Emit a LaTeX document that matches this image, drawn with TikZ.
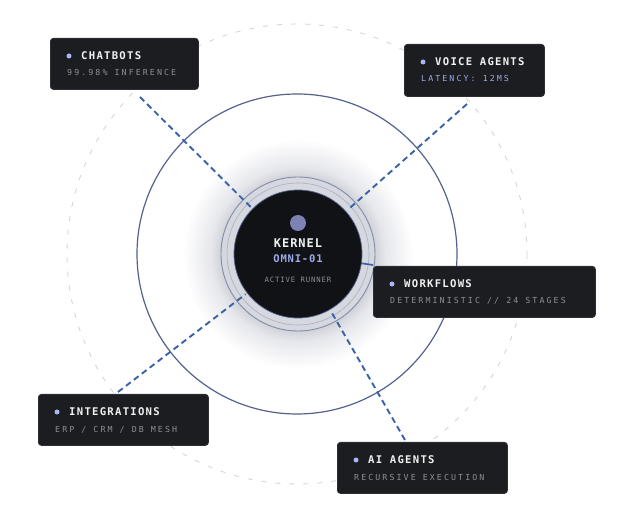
\documentclass[tikz,border=0pt]{standalone}
\usepackage{fontspec}
\usetikzlibrary{calc}
\newfontfamily\ttlfont[LetterSpace=12]{DejaVu Sans Mono}
\newfontfamily\subfont[LetterSpace=25]{DejaVu Sans Mono}
\newfontfamily\kerfont[LetterSpace=8]{DejaVu Sans Mono}
\newfontfamily\runfont[LetterSpace=12]{DejaVu Sans Mono}
\definecolor{boxbg}{HTML}{1C1D21}
\definecolor{boxedge}{HTML}{2C2E34}
\definecolor{ttlc}{HTML}{F2F2F4}
\definecolor{subc}{HTML}{8C8F97}
\definecolor{lav}{HTML}{9DAAE8}
\definecolor{dotc}{HTML}{A9B6F4}
\definecolor{connc}{HTML}{3A62A8}
\definecolor{midc}{HTML}{56628E}
\definecolor{outc}{HTML}{D6D6D8}
\definecolor{kfill}{HTML}{111216}
\definecolor{ringfill}{HTML}{D5D8DF}
\definecolor{ringc}{HTML}{858CA6}
\definecolor{glowc}{HTML}{C9CCD4}
\definecolor{glowm}{HTML}{E6E7EC}
\definecolor{kdot}{HTML}{7C82B4}
\pgfdeclareradialshading{kglow}{\pgfpoint{0bp}{0bp}}{color(0bp)=(glowc); color(16bp)=(glowc); color(19bp)=(glowm); color(25bp)=(white); color(50bp)=(white)}
\tikzset{
  infobox/.style={draw=boxedge, line width=0.8pt, fill=boxbg, rounded corners=3pt},
  ttl/.style={anchor=base west, inner sep=0pt, text=ttlc, font=\ttlfont\bfseries\fontsize{10.6}{12}\selectfont},
  sub/.style={anchor=base west, inner sep=0pt, text=subc, font=\subfont\fontsize{8.3}{10}\selectfont},
  bdot/.style={circle, fill=dotc, inner sep=0pt, minimum size=5pt},
  conn/.style={draw=connc, line width=1.9pt, dash pattern=on 6pt off 4pt},
}
\newcommand{\infob}[8]{%
  \node[infobox, anchor=north west, minimum width=#4-#2, minimum height=#5-#3, inner sep=0pt] (#1) at (#2,#3) {};
  \node[bdot] (#1d) at ($(#1.north west)+(19,18)$) {};
  \node[ttl] (#1t) at ($(#1.north west)+(31,21.9)$) {#6};
  \node[sub, text=#8] (#1s) at ($(#1.north west)+(17,38)$) {#7};
}
\begin{document}
\begin{tikzpicture}[x=1pt,y=-1pt]
\useasboundingbox[fill=white] (0,0) rectangle (624,518);
% rings
\draw[outc, line width=0.9pt, dash pattern=on 5pt off 9pt] (297,254) circle (230);
\draw[midc, line width=1.2pt] (297,254) circle (160);
\coordinate (C) at (298,254);
\shade[shading=kglow] (C) circle (115);
% connector endpoints
\coordinate (cbe) at (140,97);
\coordinate (vae) at (467,104);
\coordinate (wfe) at (373,265);
\coordinate (ige) at (118,392);
\coordinate (aie) at (405,440);
% ring annulus
\node[circle, fill=ringfill, draw=ringc, line width=0.9pt, minimum size=154pt, inner sep=0pt] (ring) at (C) {};
\node[circle, draw=ringc!70!white, line width=0.6pt, minimum size=142pt, inner sep=0pt] (ring2) at (C) {};
% connectors
\draw[conn] (cbe) -- ($(C)!66pt!(cbe)$);
\draw[conn] (vae) -- ($(C)!66pt!(vae)$);
\draw[conn] (ige) -- ($(C)!66pt!(ige)$);
\draw[conn] (aie) -- ($(C)!66pt!(aie)$);
\draw[draw=connc, line width=1.7pt] (wfe) -- ($(C)!63pt!(wfe)$);
% kernel
\node[circle, fill=kfill, draw=midc, line width=0.7pt, minimum size=128pt, inner sep=0pt] (K) at (C) {};
\node[circle, fill=kdot, inner sep=0pt, minimum size=16pt] (kd) at (298,223) {};
\node[anchor=base, inner sep=0pt, text=ttlc, font=\kerfont\bfseries\fontsize{12}{14}\selectfont] (kt) at (298,248) {KERNEL};
\node[anchor=base, inner sep=0pt, text=lav, font=\kerfont\bfseries\fontsize{10.5}{12}\selectfont] (ko) at (298,262.8) {OMNI-01};
\node[anchor=base, inner sep=0pt, text=subc, font=\runfont\fontsize{7.3}{9}\selectfont] (kr) at (298,282.7) {ACTIVE RUNNER};
% boxes
\infob{cb}{50}{38}{198}{89}{CHATBOTS}{99.98\% INFERENCE}{subc}
\infob{va}{404}{44}{544}{96}{VOICE AGENTS}{LATENCY: 12MS}{lav}
\infob{wf}{373}{266}{595}{317}{WORKFLOWS}{DETERMINISTIC // 24 STAGES}{subc}
\infob{ig}{38}{394}{208}{445}{INTEGRATIONS}{ERP / CRM / DB MESH}{subc}
\infob{ai}{337}{442}{507}{493}{AI AGENTS}{RECURSIVE EXECUTION}{subc}
\end{tikzpicture}
\end{document}
